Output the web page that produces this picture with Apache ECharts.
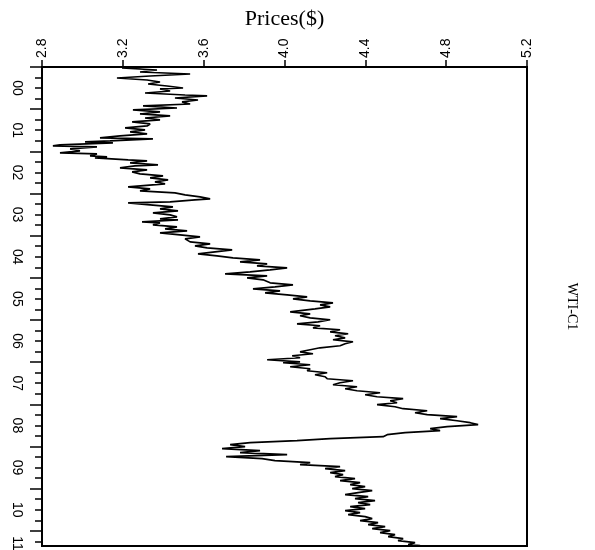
<!DOCTYPE html>
<html><head><meta charset="utf-8">
<script src="https://cdn.jsdelivr.net/npm/echarts@6/dist/echarts.min.js"></script>
<style>html,body{margin:0;padding:0;background:#fff}#c{width:595px;height:550px}</style>
</head><body><div id="c"></div>
<script>
// time in decimal years
const years = [2000.000,2000.024,2000.071,2000.118,2000.166,2000.213,2000.261,2000.308,2000.355,2000.403,2000.450,2000.498,2000.521,2000.569,2000.616,2000.664,2000.687,2000.735,2000.782,2000.829,2000.877,2000.924,2000.972,
2001.019,2001.066,2001.114,2001.161,2001.209,2001.256,2001.303,2001.351,2001.398,2001.445,2001.493,2001.540,2001.588,2001.635,2001.682,2001.706,2001.754,2001.777,2001.801,2001.848,2001.872,2001.896,2001.943,2001.991,
2002.038,2002.062,2002.109,2002.133,2002.156,2002.204,2002.227,2002.275,2002.322,2002.346,2002.393,2002.441,2002.488,2002.536,2002.583,2002.630,2002.678,2002.725,2002.773,2002.844,2002.891,2002.938,2002.986,
2003.033,2003.081,2003.128,2003.152,2003.199,2003.223,2003.270,2003.318,2003.365,2003.412,2003.460,2003.507,2003.555,2003.602,2003.626,2003.673,2003.697,2003.744,2003.791,2003.839,2003.886,2003.934,2003.981,
2004.028,2004.076,2004.147,2004.194,2004.242,2004.289,2004.336,2004.384,2004.431,2004.479,2004.526,2004.573,2004.621,2004.668,2004.716,2004.763,2004.810,2004.858,2004.905,2004.953,
2005.000,2005.047,2005.118,2005.166,2005.213,2005.261,2005.308,2005.355,2005.403,2005.450,2005.498,2005.545,2005.592,2005.640,2005.687,2005.735,2005.806,2005.853,2005.900,2005.948,2005.995,
2006.043,2006.090,2006.137,2006.185,2006.232,2006.280,2006.327,2006.374,2006.422,2006.469,2006.517,2006.564,2006.611,2006.659,2006.706,2006.754,2006.801,2006.848,2006.896,2006.943,2006.991,
2007.014,2007.062,2007.109,2007.156,2007.204,2007.251,2007.299,2007.346,2007.393,2007.441,2007.488,2007.536,2007.583,2007.630,2007.678,2007.725,2007.773,2007.820,2007.867,2007.915,2007.962,
2008.009,2008.057,2008.104,2008.152,2008.199,2008.246,2008.294,2008.341,2008.389,2008.436,2008.483,2008.531,2008.578,2008.626,2008.673,2008.720,2008.768,2008.815,2008.863,2008.910,2008.957,
2009.005,2009.052,2009.100,2009.147,2009.194,2009.242,2009.289,2009.336,2009.384,2009.431,2009.479,2009.526,2009.573,2009.621,2009.668,2009.716,2009.763,2009.810,2009.858,2009.905,2009.953,
2010.000,2010.047,2010.095,2010.142,2010.190,2010.237,2010.284,2010.332,2010.379,2010.427,2010.474,2010.521,2010.569,2010.616,2010.664,2010.711,2010.758,2010.806,2010.853,2010.900,2010.948,2010.995,
2011.043,2011.090,2011.137,2011.185,2011.232,2011.280,2011.327,2011.351];
// log prices
const prices = [3.335,3.196,3.369,3.285,3.533,3.335,3.171,3.320,3.384,3.325,3.419,3.498,3.384,3.434,3.310,3.508,3.617,3.458,3.572,3.493,3.533,3.300,3.468,
3.250,3.384,3.285,3.434,3.310,3.384,3.246,3.335,3.320,3.211,3.310,3.236,3.320,3.186,3.087,3.349,3.137,3.013,3.151,2.889,2.854,3.072,2.939,2.988,
2.889,3.072,3.038,3.122,3.062,3.226,3.320,3.236,3.374,3.260,3.186,3.320,3.246,3.285,3.399,3.335,3.424,3.359,3.409,3.226,3.335,3.285,3.458,
3.508,3.582,3.632,3.557,3.434,3.226,3.335,3.448,3.384,3.473,3.349,3.434,3.468,3.384,3.473,3.295,3.384,3.349,3.468,3.409,3.518,3.384,3.483,
3.582,3.508,3.533,3.632,3.557,3.617,3.741,3.656,3.572,3.666,3.745,3.879,3.780,3.914,3.864,4.013,3.929,3.830,3.706,3.914,
3.815,3.894,3.929,4.042,3.953,3.844,3.978,3.904,4.013,4.112,4.042,4.127,4.240,4.176,4.226,4.151,4.028,4.127,4.077,4.127,4.226,
4.166,4.062,4.176,4.141,4.275,4.226,4.315,4.250,4.300,4.240,4.339,4.300,4.275,4.176,4.127,4.077,4.141,4.038,4.077,3.914,4.077,
3.993,4.127,4.028,4.127,4.112,4.211,4.151,4.201,4.211,4.339,4.275,4.240,4.359,4.300,4.359,4.473,4.399,4.458,4.587,4.523,4.557,
4.458,4.547,4.587,4.706,4.646,4.706,4.854,4.770,4.854,4.919,4.958,4.805,4.721,4.770,4.597,4.508,4.488,4.226,4.062,3.830,3.731,
3.805,3.691,3.879,3.780,4.013,3.711,3.889,3.953,4.127,4.077,4.275,4.201,4.300,4.226,4.290,4.250,4.349,4.275,4.374,4.325,4.399,
4.335,4.434,4.364,4.300,4.414,4.349,4.448,4.364,4.424,4.325,4.399,4.300,4.374,4.315,4.399,4.434,4.374,4.463,4.414,4.498,4.434,4.523,
4.473,4.547,4.513,4.587,4.562,4.646,4.612,4.671];

const yearLabels = ['00','01','02','03','04','05','06','07','08','09','10','11'];
const yearLabelPos = [2000.5,2001.5,2002.5,2003.5,2004.5,2005.5,2006.5,2007.5,2008.5,2009.5,2010.5,2011.3];
const yearTicks = [2000,2001,2002,2003,2004,2005,2006,2007,2008,2009,2010,2011];
const tMin = 2000, tMax = 2011.36;

const quarterTicks = [];
for (let q = 0; q <= 45; q++) quarterTicks.push(2000 + q * 0.25);

const seriesData = years.map((t, i) => [prices[i], t]);

const sans = "'Liberation Sans', Arial, sans-serif";
const serif = "'Liberation Serif', 'Times New Roman', serif";

const chart = echarts.init(document.getElementById('c'), null, {renderer: 'canvas'});
chart.setOption({
  animation: false,
  backgroundColor: '#fff',
  grid: {left: 42, top: 67, right: 68, bottom: 4, show: true, borderColor: '#000', borderWidth: 2,
         containLabel: false, outerBoundsMode: 'none'},
  xAxis: [{
    type: 'value', position: 'top', min: 2.8, max: 5.2, interval: 0.4,
    axisLine: {show: true, onZero: false, lineStyle: {color: '#000', width: 2}},
    axisTick: {show: true, inside: false, length: 7, lineStyle: {color: '#000', width: 1.5}},
    axisLabel: {rotate: -90, margin: 9, color: '#000', fontSize: 14, fontFamily: sans,
                formatter: v => v.toFixed(1)},
    splitLine: {show: false},
    name: 'Prices($)', nameLocation: 'middle', nameGap: 36,
    nameTextStyle: {color: '#000', fontFamily: serif, fontSize: 22}
  }],
  yAxis: [{
    type: 'value', position: 'left', inverse: true, min: tMin, max: tMax,
    axisLine: {show: true, onZero: false, lineStyle: {color: '#000', width: 2}},
    axisTick: {show: true, length: 12, customValues: yearTicks, lineStyle: {color: '#000', width: 1.5}},
    axisLabel: {show: false},
    splitLine: {show: false}
  }, {
    type: 'value', position: 'left', inverse: true, min: tMin, max: tMax,
    axisLine: {show: false, onZero: false},
    axisTick: {show: true, length: 7, customValues: quarterTicks, lineStyle: {color: '#000', width: 1.5}},
    axisLabel: {show: true, rotate: -90, margin: 18, color: '#000', fontSize: 14, fontFamily: sans,
                customValues: yearLabelPos, showMinLabel: true, showMaxLabel: true,
                formatter: v => yearLabels[Math.floor(v) - 2000]},
    splitLine: {show: false}
  }, {
    type: 'value', position: 'right', inverse: true, min: tMin, max: tMax,
    axisLine: {show: false, onZero: false}, axisTick: {show: false}, axisLabel: {show: false},
    splitLine: {show: false},
    name: 'WTI-C1', nameLocation: 'middle', nameRotate: -90, nameGap: 38,
    nameTextStyle: {color: '#000', fontFamily: serif, fontSize: 14}
  }],
  series: [{
    type: 'line', xAxisIndex: 0, yAxisIndex: 0, data: seriesData,
    showSymbol: false, symbol: 'none', smooth: false,
    lineStyle: {color: '#000', width: 1.7}
  }]
});
</script></body></html>
